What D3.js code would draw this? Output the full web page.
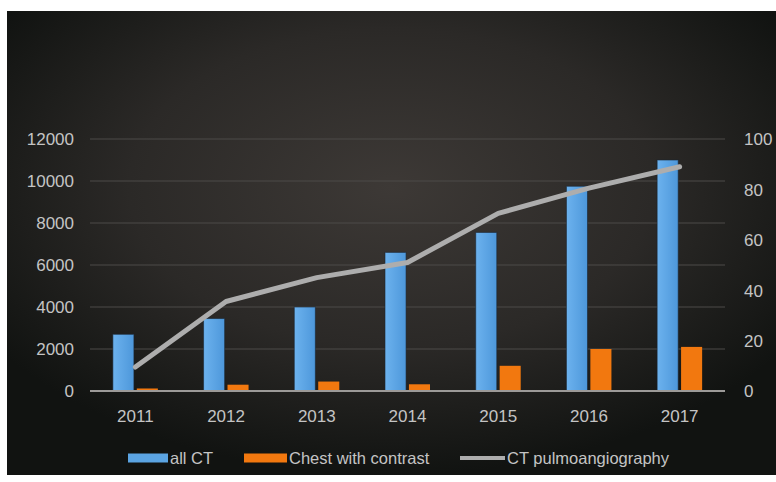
<!DOCTYPE html>
<html>
<head>
<meta charset="utf-8">
<script src="https://cdn.jsdelivr.net/npm/d3@7"></script>
<style>
  html, body { margin: 0; padding: 0; background: #fff; }
  svg { display: block; }
  text { font-family: "Liberation Sans", Arial, sans-serif; }
</style>
</head>
<body>
<div id="chart"></div>
<script>
(function drawChart() {
    const years = ["2011", "2012", "2013", "2014", "2015", "2016", "2017"];
    const allCT = [2700, 3450, 4000, 6600, 7550, 9750, 11000];
    const chestContrast = [120, 300, 450, 320, 1200, 2000, 2100];
    const pulmo = [9.5, 35.5, 45, 51, 70.5, 80.5, 89];
    const leftTicks = [0, 2000, 4000, 6000, 8000, 10000, 12000];
    const rightTicks = [0, 20, 40, 60, 80, 100];

    const series = [
        { key: "all", label: "all CT", color: "#5ba4e2", values: allCT },
        { key: "chest", label: "Chest with contrast", color: "#f2780f", values: chestContrast }
    ];
    const lineColor = "#adadad";

    const width = 776, height = 482;
    const plot = { left: 90, right: 725, top: 139, bottom: 391 };

    const svg = d3.select("#chart").append("svg")
        .attr("width", width)
        .attr("height", height);

    const defs = svg.append("defs");
    const grad = defs.append("radialGradient")
        .attr("id", "bg")
        .attr("cx", "50%").attr("cy", "38%")
        .attr("r", "62%");
    grad.append("stop").attr("offset", "0%").attr("stop-color", "#3d3936");
    grad.append("stop").attr("offset", "55%").attr("stop-color", "#2b2927");
    grad.append("stop").attr("offset", "100%").attr("stop-color", "#111311");

    const barGrad = defs.append("linearGradient")
        .attr("id", "blueGrad").attr("x1", "0").attr("x2", "1").attr("y1", "0").attr("y2", "0");
    barGrad.append("stop").attr("offset", "0%").attr("stop-color", "#6cb2ee");
    barGrad.append("stop").attr("offset", "100%").attr("stop-color", "#4d97da");

    svg.append("rect")
        .attr("x", 7).attr("y", 11)
        .attr("width", width - 7).attr("height", 464)
        .attr("fill", "url(#bg)");

    const x = d3.scaleBand().domain(years).range([plot.left, plot.right]).padding(0);
    const x1 = d3.scaleBand().domain(series.map(s => s.key)).range([-22.5, 22.5]).paddingInner(0.12);
    const yL = d3.scaleLinear().domain([0, 12000]).range([plot.bottom, plot.top]);
    const yR = d3.scaleLinear().domain([0, 100]).range([plot.bottom, plot.top]);

    // gridlines
    svg.append("g")
        .selectAll("line")
        .data(leftTicks.filter(d => d > 0))
        .enter().append("line")
        .attr("x1", plot.left).attr("x2", plot.right)
        .attr("y1", d => yL(d)).attr("y2", d => yL(d))
        .attr("stroke", "#4c4a48")
        .attr("stroke-width", 1);

    // left axis
    const leftAxis = svg.append("g")
        .attr("transform", `translate(${plot.left - 16},0)`)
        .call(d3.axisLeft(yL).tickValues(leftTicks).tickSize(0).tickPadding(0).tickFormat(d3.format("d")));
    leftAxis.select(".domain").remove();
    leftAxis.selectAll("text")
        .attr("fill", "#c4c4c4")
        .attr("font-size", 17)
        .attr("dy", "0.35em");

    // right axis
    const rightAxis = svg.append("g")
        .attr("transform", `translate(${plot.right + 19},0)`)
        .call(d3.axisRight(yR).tickValues(rightTicks).tickSize(0).tickPadding(0));
    rightAxis.select(".domain").remove();
    rightAxis.selectAll("text")
        .attr("fill", "#c4c4c4")
        .attr("font-size", 17)
        .attr("dy", "0.35em");

    // bars
    const groups = svg.append("g")
        .selectAll("g.year")
        .data(years)
        .enter().append("g")
        .attr("class", "year")
        .attr("transform", d => `translate(${x(d) + x.bandwidth() / 2},0)`);

    groups.selectAll("rect")
        .data((d, i) => series.map(s => ({ key: s.key, color: s.color, value: s.values[i] })))
        .enter().append("rect")
        .attr("x", d => x1(d.key))
        .attr("width", x1.bandwidth())
        .attr("y", d => yL(d.value))
        .attr("height", d => plot.bottom - yL(d.value))
        .attr("fill", d => d.key === "all" ? "url(#blueGrad)" : d.color)
        .attr("stroke", "#1b2430")
        .attr("stroke-opacity", d => d.key === "all" ? 0.6 : 0)
        .attr("stroke-width", 1);

    // baseline
    svg.append("line")
        .attr("x1", plot.left).attr("x2", plot.right)
        .attr("y1", plot.bottom).attr("y2", plot.bottom)
        .attr("stroke", "#9c9a98")
        .attr("stroke-width", 2);

    // line series
    const line = d3.line()
        .x((d, i) => x(years[i]) + x.bandwidth() / 2)
        .y(d => yR(d));

    svg.append("path")
        .datum(pulmo)
        .attr("d", line)
        .attr("fill", "none")
        .attr("stroke", lineColor)
        .attr("stroke-width", 5)
        .attr("stroke-linejoin", "round")
        .attr("stroke-linecap", "round");

    // x axis labels
    const xAxis = svg.append("g")
        .attr("transform", `translate(0,${plot.bottom})`)
        .call(d3.axisBottom(x).tickSize(0).tickPadding(0));
    xAxis.select(".domain").remove();
    xAxis.selectAll("text")
        .attr("fill", "#c4c4c4")
        .attr("font-size", 17)
        .attr("y", 25)
        .attr("dy", "0.35em");

    // legend
    const legendItems = [
        { label: series[0].label, color: series[0].color, type: "rect", x: 128, w: 40 },
        { label: series[1].label, color: series[1].color, type: "rect", x: 244, w: 43 },
        { label: "CT pulmoangiography", color: lineColor, type: "line", x: 460, w: 45 }
    ];
    const legendY = 458;
    const leg = svg.append("g")
        .selectAll("g.leg")
        .data(legendItems)
        .enter().append("g")
        .attr("class", "leg")
        .attr("transform", d => `translate(${d.x},${legendY})`);

    leg.filter(d => d.type === "rect").append("rect")
        .attr("x", 0).attr("y", -4.5)
        .attr("width", d => d.w).attr("height", 9)
        .attr("fill", d => d.color);
    leg.filter(d => d.type === "line").append("line")
        .attr("x1", 0).attr("x2", d => d.w)
        .attr("y1", 0).attr("y2", 0)
        .attr("stroke", d => d.color)
        .attr("stroke-width", 4);

    leg.append("text")
        .attr("x", d => d.w + 2)
        .attr("y", 0)
        .attr("dy", "0.35em")
        .attr("fill", "#c4c4c4")
        .attr("font-size", 16.5)
        .text(d => d.label);
}());
</script>
</body>
</html>
